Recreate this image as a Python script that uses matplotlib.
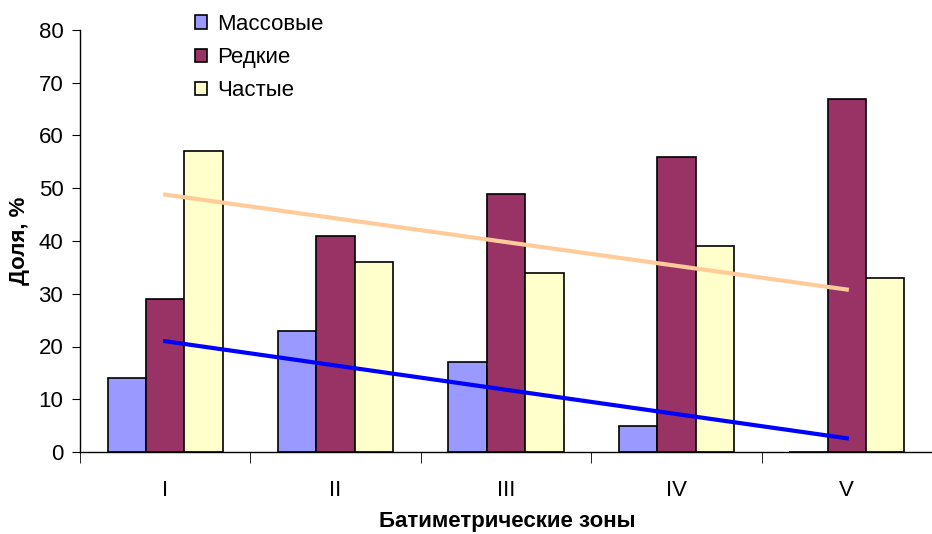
import numpy as np
import matplotlib.pyplot as plt

plt.rcParams['font.family'] = ['Liberation Sans', 'DejaVu Sans']

zones = ['I', 'II', 'III', 'IV', 'V']
massovye = [14, 23, 17, 5, 0]
redkie = [29, 41, 49, 56, 67]
chastye = [57, 36, 34, 39, 33]

fig = plt.figure(figsize=(9.32, 5.34), dpi=100)
ax = fig.add_axes([80/932, 82/534, 852/932, 422/534])

x = np.arange(len(zones))
w = 0.225
ax.bar(x - w, massovye, w, color='#9999FF', edgecolor='black', lw=1.2, label='Массовые', zorder=2)
ax.bar(x, redkie, w, color='#993366', edgecolor='black', lw=1.2, label='Редкие', zorder=2)
ax.bar(x + w, chastye, w, color='#FFFFCC', edgecolor='black', lw=1.2, label='Частые', zorder=2)

# linear trendlines, as in Excel
k, b = np.polyfit(x, chastye, 1)
ax.plot(x, k * x + b, color='#FFCC99', lw=3, zorder=3)
k, b = np.polyfit(x, massovye, 1)
ax.plot(x, k * x + b, color='#0000FF', lw=3, zorder=3)

ax.set_xlim(-0.5, 4.40)
ax.set_ylim(0, 80)
ax.set_yticks(range(0, 81, 10))
ax.set_xticks(x)
ax.set_xticklabels(zones)
ax.set_xticks(np.arange(-0.5, 5, 1), minor=True)
ax.tick_params(axis='x', which='major', length=0, pad=20, labelsize=16)
ax.tick_params(axis='x', which='minor', length=8, direction='out')
ax.tick_params(axis='y', length=6, direction='out', labelsize=16, pad=6)

for s in ['top', 'right']:
    ax.spines[s].set_visible(False)
for s in ['left', 'bottom']:
    ax.spines[s].set_linewidth(1)

ax.set_ylabel('Доля, %', fontsize=16, fontweight='bold', labelpad=6)
fig.text(507/932, 1 - 522/534, 'Батиметрические зоны', fontsize=16,
         fontweight='bold', ha='center', va='center')

fig.legend(loc='upper left', bbox_to_anchor=(186/932, 1 - 5/534), frameon=False,
           fontsize=16, handlelength=0.55, handleheight=0.55, handletextpad=0.45,
           labelspacing=0.55, borderaxespad=0)

fig.savefig('out.png', dpi=100)
